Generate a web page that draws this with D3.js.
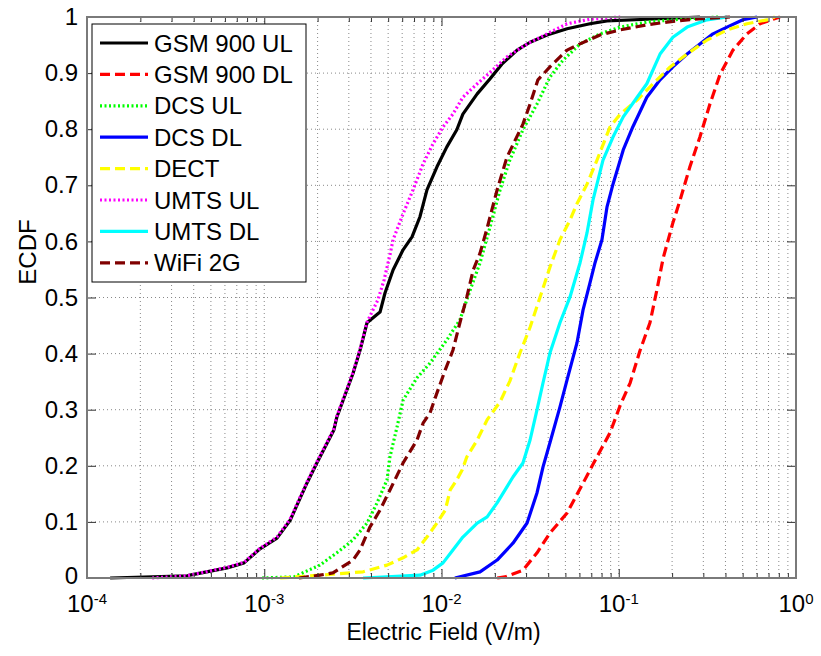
<!DOCTYPE html>
<html>
<head>
<meta charset="utf-8">
<script src="https://cdn.jsdelivr.net/npm/d3@7"></script>
<style>
  body { margin: 0; background: #fff; }
  svg { display: block; }
  text { font-family: "Liberation Sans", Arial, Helvetica, sans-serif; fill: #000; }
</style>
</head>
<body>
<svg id="chart" width="821" height="656"></svg>
<script>
// ECDF curves: [electric field (V/m), cumulative probability]
const gsm900Ul = [[1.35e-4,0],[3.67e-4,0.004],[3.81e-4,0.005],[6.17e-4,0.018],[7.69e-4,0.027],[9.46e-4,0.052],
  [1.18e-3,0.071],[1.40e-3,0.103],[1.74e-3,0.169],[1.98e-3,0.205],[2.47e-3,0.264],[2.57e-3,0.287],[3.17e-3,0.365],
  [3.47e-3,0.406],[3.80e-3,0.455],[4.50e-3,0.474],[4.80e-3,0.508],[5.33e-3,0.549],[6.07e-3,0.585],[6.82e-3,0.608],
  [7.56e-3,0.644],[8.28e-3,0.692],[9.43e-3,0.733],[1.07e-2,0.768],[1.22e-2,0.799],[1.32e-2,0.827],[1.59e-2,0.863],
  [1.88e-2,0.890],[2.19e-2,0.916],[2.67e-2,0.941],[3.16e-2,0.955],[3.94e-2,0.968],[5.11e-2,0.979],[6.88e-2,0.988],
  [8.58e-2,0.993],[0.144,0.996],[0.287,1]];
const gsm900Dl = [[2.06e-2,0],[2.28e-2,0.002],[2.88e-2,0.014],[3.46e-2,0.045],[4.09e-2,0.080],[5.11e-2,0.116],
  [6.29e-2,0.169],[7.54e-2,0.216],[8.93e-2,0.259],[0.102,0.308],[0.116,0.348],[0.132,0.406],[0.150,0.455],
  [0.164,0.513],[0.178,0.570],[0.202,0.633],[0.222,0.674],[0.252,0.733],[0.287,0.786],[0.327,0.845],[0.373,0.898],
  [0.441,0.941],[0.529,0.970],[0.627,0.988],[0.742,0.996],[0.812,1]];
const dcsUl = [[9.71e-4,0],[1.47e-3,0.002],[2.06e-3,0.023],[2.57e-3,0.045],[3.17e-3,0.068],[3.80e-3,0.098],
  [4.33e-3,0.134],[4.93e-3,0.175],[5.12e-3,0.216],[5.61e-3,0.269],[6.07e-3,0.317],[7.28e-3,0.357],[8.61e-3,0.383],
  [1.07e-2,0.424],[1.27e-2,0.460],[1.45e-2,0.513],[1.65e-2,0.562],[1.88e-2,0.626],[2.14e-2,0.692],[2.43e-2,0.745],
  [2.88e-2,0.799],[3.46e-2,0.845],[4.09e-2,0.893],[4.85e-2,0.923],[6.05e-2,0.952],[7.84e-2,0.970],[0.102,0.982],
  [0.144,0.991],[0.222,0.996],[0.373,1]];
const dcsDl = [[1.19e-2,0],[1.65e-2,0.011],[2.06e-2,0.032],[2.53e-2,0.062],[3.04e-2,0.098],[3.46e-2,0.152],
  [3.74e-2,0.198],[4.09e-2,0.241],[4.66e-2,0.305],[5.11e-2,0.353],[5.81e-2,0.419],[6.29e-2,0.478],[6.88e-2,0.526],
  [7.35e-2,0.562],[8.04e-2,0.603],[8.58e-2,0.661],[9.28e-2,0.702],[0.106,0.763],[0.120,0.804],[0.144,0.857],
  [0.171,0.888],[0.202,0.911],[0.243,0.934],[0.287,0.952],[0.340,0.970],[0.408,0.982],[0.502,0.995],[0.603,1]];
const dect = [[1.23e-3,0],[2.06e-3,0.005],[3.61e-3,0.011],[4.93e-3,0.023],[6.07e-3,0.036],[7.28e-3,0.050],
  [8.28e-3,0.073],[9.43e-3,0.098],[1.05e-2,0.121],[1.12e-2,0.157],[1.22e-2,0.175],[1.31e-2,0.193],[1.39e-2,0.216],
  [1.59e-2,0.246],[1.81e-2,0.282],[2.14e-2,0.314],[2.43e-2,0.351],[2.77e-2,0.401],[3.16e-2,0.447],[3.60e-2,0.501],
  [4.09e-2,0.554],[4.66e-2,0.603],[5.31e-2,0.638],[5.81e-2,0.667],[6.62e-2,0.702],[7.54e-2,0.745],[8.93e-2,0.804],
  [0.102,0.827],[0.127,0.852],[0.156,0.881],[0.195,0.911],[0.243,0.934],[0.315,0.959],[0.408,0.977],[0.529,0.988],
  [0.686,0.995],[0.760,1]];
const umtsUl = [[2.33e-4,0],[3.67e-4,0.004],[6.17e-4,0.019],[7.69e-4,0.028],[9.46e-4,0.053],[1.18e-3,0.073],
  [1.40e-3,0.105],[1.74e-3,0.171],[1.98e-3,0.207],[2.47e-3,0.266],[2.57e-3,0.289],[3.17e-3,0.367],[3.47e-3,0.408],
  [3.80e-3,0.456],[4.38e-3,0.496],[4.74e-3,0.531],[5.12e-3,0.576],[5.33e-3,0.603],[6.07e-3,0.649],[6.91e-3,0.692],
  [7.87e-3,0.738],[8.96e-3,0.774],[1.02e-2,0.804],[1.16e-2,0.827],[1.32e-2,0.857],[1.59e-2,0.881],[1.83e-2,0.898],
  [2.34e-2,0.929],[3.04e-2,0.952],[3.94e-2,0.970],[5.11e-2,0.988],[6.88e-2,0.996],[0.102,1]];
const umtsDl = [[3.61e-3,0],[7.56e-3,0.005],[8.96e-3,0.014],[1.02e-2,0.027],[1.16e-2,0.050],[1.32e-2,0.073],
  [1.59e-2,0.098],[1.81e-2,0.109],[2.06e-2,0.134],[2.53e-2,0.180],[2.88e-2,0.205],[3.16e-2,0.246],[3.46e-2,0.300],
  [3.74e-2,0.348],[4.09e-2,0.401],[4.66e-2,0.455],[5.31e-2,0.501],[6.05e-2,0.562],[6.62e-2,0.615],[7.16e-2,0.674],
  [8.15e-2,0.745],[9.28e-2,0.786],[0.106,0.822],[0.127,0.857],[0.144,0.881],[0.171,0.934],[0.202,0.964],
  [0.243,0.982],[0.315,0.995],[0.408,1]];
const wifi2g = [[1.57e-3,0],[2.06e-3,0.005],[2.44e-3,0.009],[3.17e-3,0.032],[3.47e-3,0.050],[3.95e-3,0.091],
  [4.50e-3,0.121],[5.12e-3,0.157],[6.07e-3,0.205],[7.28e-3,0.246],[7.87e-3,0.276],[8.61e-3,0.294],[9.43e-3,0.330],
  [1.05e-2,0.371],[1.16e-2,0.406],[1.27e-2,0.455],[1.39e-2,0.501],[1.51e-2,0.549],[1.65e-2,0.579],[1.81e-2,0.624],
  [2.06e-2,0.692],[2.34e-2,0.750],[2.88e-2,0.809],[3.16e-2,0.845],[3.50e-2,0.888],[4.09e-2,0.911],[5.11e-2,0.941],
  [6.05e-2,0.952],[7.84e-2,0.968],[0.102,0.977],[0.144,0.986],[0.187,0.991],[0.262,0.996],[0.424,1]];

const seriesNames = ["GSM 900 UL", "GSM 900 DL", "DCS UL", "DCS DL", "DECT", "UMTS UL", "UMTS DL", "WiFi 2G"];
const seriesData = [gsm900Ul, gsm900Dl, dcsUl, dcsDl, dect, umtsUl, umtsDl, wifi2g];
const yTicks = [0, 0.1, 0.2, 0.3, 0.4, 0.5, 0.6, 0.7, 0.8, 0.9, 1];
const yTickLabels = ["0", "0.1", "0.2", "0.3", "0.4", "0.5", "0.6", "0.7", "0.8", "0.9", "1"];
const xDecades = [-4, -3, -2, -1, 0];

// line styles, in series order
const colors = ["#000000", "#ff0000", "#00ff00", "#0000ff", "#ffff00", "#ff00ff", "#00ffff", "#800000"];
const dashes = [null, "10,5", "2,2.5", null, "10,5", "2,2.5", null, "10,5"];

const width = 821, height = 656;
const margin = { left: 87, right: 25, top: 17, bottom: 78 };
const innerW = width - margin.left - margin.right;
const innerH = height - margin.top - margin.bottom;
const fontSize = 24;

const svg = d3.select("#chart");
const g = svg.append("g").attr("transform", `translate(${margin.left},${margin.top})`);

const x = d3.scaleLog().domain([1e-4, 1]).range([0, innerW]);
const y = d3.scaleLinear().domain([0, 1]).range([innerH, 0]);

// major + minor log ticks
const xMajor = xDecades.map(e => Math.pow(10, e));
const xMinor = [];
xDecades.slice(0, -1).forEach(e => {
  for (let k = 2; k <= 9; k++) xMinor.push(k * Math.pow(10, e));
});

// grid
const grid = g.append("g").attr("class", "grid");
grid.selectAll(".gx").data(xMinor.concat(xMajor.slice(1, -1))).enter().append("line")
  .attr("x1", d => x(d)).attr("x2", d => x(d))
  .attr("y1", 0).attr("y2", innerH)
  .attr("stroke", "#888").attr("stroke-width", 1).attr("stroke-dasharray", "1,3");
grid.selectAll(".gy").data(yTicks.slice(1, -1)).enter().append("line")
  .attr("x1", 0).attr("x2", innerW)
  .attr("y1", d => y(d)).attr("y2", d => y(d))
  .attr("stroke", "#888").attr("stroke-width", 1).attr("stroke-dasharray", "1,3");

// curves (drawn in legend order, later ones on top)
const line = d3.line().x(d => x(d[0])).y(d => y(d[1]));
g.append("g").selectAll("path").data(seriesData).enter().append("path")
  .attr("d", line)
  .attr("fill", "none")
  .attr("stroke", (d, i) => colors[i])
  .attr("stroke-width", 3.2)
  .attr("stroke-dasharray", (d, i) => dashes[i])
  .attr("stroke-linejoin", "round");

// axes, ticks pointing inward on all four sides
const axisStyle = sel => {
  sel.select(".domain").remove();
  sel.selectAll(".tick line").attr("stroke", "#333");
};
g.append("g").attr("transform", `translate(0,${innerH})`)
  .call(d3.axisBottom(x).tickValues(xMajor).tickSize(-9).tickFormat(""))
  .call(axisStyle);
g.append("g").attr("transform", `translate(0,${innerH})`)
  .call(d3.axisBottom(x).tickValues(xMinor).tickSize(-5).tickFormat(""))
  .call(axisStyle);
g.append("g")
  .call(d3.axisTop(x).tickValues(xMajor).tickSize(-9).tickFormat(""))
  .call(axisStyle);
g.append("g")
  .call(d3.axisTop(x).tickValues(xMinor).tickSize(-5).tickFormat(""))
  .call(axisStyle);
const yAxis = g.append("g")
  .call(d3.axisLeft(y).tickValues(yTicks).tickSize(-9).tickPadding(9)
    .tickFormat((d, i) => yTickLabels[i]))
  .call(axisStyle);
yAxis.selectAll(".tick text").attr("font-size", fontSize).attr("font-family", null);
// keep the "0" label clear of the 10^-4 label below it
yAxis.selectAll(".tick text").filter(d => d === 0).attr("y", -2);
g.append("g").attr("transform", `translate(${innerW},0)`)
  .call(d3.axisRight(y).tickValues(yTicks).tickSize(-9).tickFormat(""))
  .call(axisStyle);

// x tick labels as 10^n
const xLab = g.append("g").selectAll("text").data(xDecades).enter().append("text")
  .attr("x", d => x(Math.pow(10, d)))
  .attr("y", innerH + 34)
  .attr("text-anchor", "middle")
  .attr("font-size", fontSize);
xLab.append("tspan").text("10");
xLab.append("tspan").attr("dy", -8).attr("font-size", 15).text(d => d === 0 ? "0" : "-" + Math.abs(d));

// box
g.append("rect").attr("width", innerW).attr("height", innerH)
  .attr("fill", "none").attr("stroke", "#7a7a7a").attr("stroke-width", 2);

// axis labels
svg.append("text").attr("x", margin.left + innerW / 2 + 2).attr("y", 640)
  .attr("text-anchor", "middle").attr("font-size", 23).text("Electric Field (V/m)");
svg.append("text").attr("transform", "translate(36,252) rotate(-90)")
  .attr("text-anchor", "middle").attr("font-size", fontSize).text("ECDF");

// legend
const legend = svg.append("g").attr("transform", "translate(92,24)");
legend.append("rect").attr("width", 214).attr("height", 258)
  .attr("fill", "#fff").attr("stroke", "#000").attr("stroke-width", 1);
const rowH = 31.4;
const items = legend.selectAll(".item").data(seriesNames).enter().append("g")
  .attr("transform", (d, i) => `translate(0,${19 + i * rowH})`);
items.append("line").attr("x1", 8).attr("x2", 56).attr("y1", 0).attr("y2", 0)
  .attr("stroke", (d, i) => colors[i]).attr("stroke-width", 3.2)
  .attr("stroke-dasharray", (d, i) => dashes[i]);
items.append("text").attr("x", 62).attr("y", 8.5).attr("font-size", fontSize).text(d => d);
</script>
</body>
</html>
